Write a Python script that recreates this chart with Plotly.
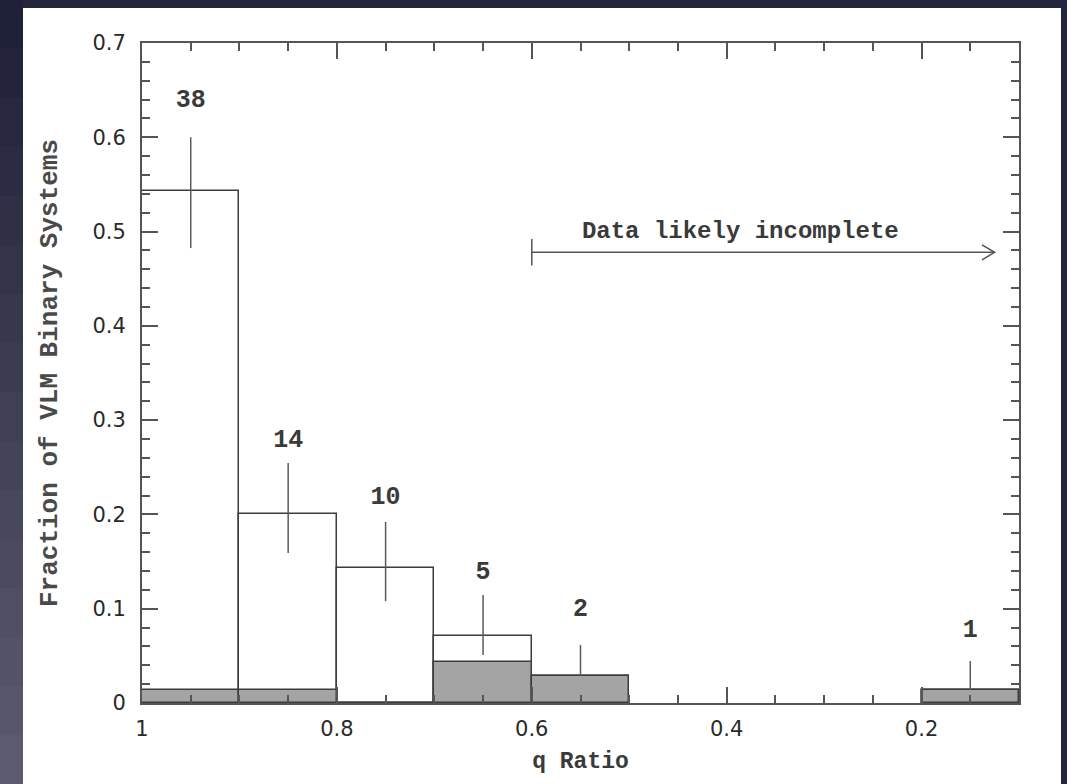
import plotly.graph_objects as go

# ---- data ----
bin_centers = [0.95, 0.85, 0.75, 0.65, 0.55, 0.15]
counts = [38, 14, 10, 5, 2, 1]
fraction_all = [0.543, 0.200, 0.143, 0.071, 0.029, 0.014]
fraction_gray = [0.014, 0.014, 0.0, 0.043, 0.029, 0.014]
err_upper = [0.600, 0.2545, 0.192, 0.1145, 0.0615, 0.0445]
err_lower = [0.4825, 0.159, 0.108, 0.051, 0.029, 0.014]
label_y = [0.639, 0.278, 0.218, 0.138, 0.099, 0.077]

x_ticks = [1.0, 0.8, 0.6, 0.4, 0.2]
x_ticktext = ["1", "0.8", "0.6", "0.4", "0.2"]
y_ticks = [0, 0.1, 0.2, 0.3, 0.4, 0.5, 0.6, 0.7]
y_ticktext = ["0", "0.1", "0.2", "0.3", "0.4", "0.5", "0.6", "0.7"]

arrow_start = 0.6
arrow_end = 0.125
arrow_y = 0.478
arrow_text = "Data likely incomplete"
text_x = 0.386
text_y = 0.50

BIN_W = 0.1
LINE = "#3c3c3c"
AX = "#555555"
TXT = "#3a3a3a"
MONO = "Liberation Mono"
SANS = "DejaVu Sans"

fig = go.Figure()

fig.add_trace(go.Bar(
    x=bin_centers, y=fraction_all, width=BIN_W,
    marker=dict(color="white", line=dict(color=LINE, width=1.5)),
    showlegend=False, hoverinfo="skip"))
fig.add_trace(go.Bar(
    x=bin_centers, y=fraction_gray, width=BIN_W,
    marker=dict(color="#a4a4a4", line=dict(color=LINE, width=1.5)),
    showlegend=False, hoverinfo="skip"))

plus = [u - v for u, v in zip(err_upper, fraction_all)]
minus = [v - l for v, l in zip(fraction_all, err_lower)]
fig.add_trace(go.Scatter(
    x=bin_centers, y=fraction_all, mode="markers",
    marker=dict(size=0.1, color="rgba(0,0,0,0)"),
    error_y=dict(type="data", array=plus, arrayminus=minus, symmetric=False,
                 width=0, thickness=1.5, color="#5a5a5a"),
    showlegend=False, hoverinfo="skip"))

fig.add_trace(go.Scatter(
    x=bin_centers, y=label_y, mode="text", text=[str(c) for c in counts],
    textfont=dict(family=MONO, size=25, color=TXT, weight="bold"),
    showlegend=False, hoverinfo="skip"))

# "Data likely incomplete" arrow
head_dx = 0.013
head_dy = 0.008
tick_dy = 0.014
fig.add_trace(go.Scatter(
    x=[arrow_start, arrow_end, None, arrow_end + head_dx, arrow_end, arrow_end + head_dx,
       None, arrow_start, arrow_start],
    y=[arrow_y, arrow_y, None, arrow_y + head_dy, arrow_y, arrow_y - head_dy,
       None, arrow_y - tick_dy, arrow_y + tick_dy],
    mode="lines", line=dict(color="#555555", width=1.5),
    showlegend=False, hoverinfo="skip"))
fig.add_trace(go.Scatter(
    x=[text_x], y=[text_y], mode="text", text=[arrow_text],
    textfont=dict(family=MONO, size=24, color=TXT, weight="bold"),
    showlegend=False, hoverinfo="skip"))

# background: white panel and dark gradient strips
shapes = [dict(type="rect", xref="paper", yref="paper",
               x0=(23 - 142) / 877, x1=(1061 - 142) / 877,
               y0=-0.3, y1=(703 - 8) / 660,
               fillcolor="white", line=dict(width=0), layer="below")]
n = 16
c0 = (31, 33, 56)
c1 = (92, 90, 112)
for i in range(n):
    t = i / (n - 1)
    col = "rgb(%d,%d,%d)" % tuple(int(a + (b - a) * t) for a, b in zip(c0, c1))
    ytop = 784 * i / n
    ybot = 784 * (i + 1) / n
    shapes.append(dict(type="rect", xref="paper", yref="paper",
                       x0=-142 / 877 - 0.01, x1=(23 - 142) / 877,
                       y0=(703 - ybot) / 660, y1=(703 - ytop) / 660,
                       fillcolor=col, line=dict(width=0), layer="below"))

fig.update_layout(
    width=1067, height=784,
    margin=dict(l=142, r=48, t=43, b=81, pad=0),
    paper_bgcolor="#22253b", plot_bgcolor="rgba(0,0,0,0)",
    barmode="overlay", bargap=0,
    shapes=shapes,
    xaxis=dict(range=[1.0, 0.1], tickvals=x_ticks, ticktext=x_ticktext,
               ticks="inside", ticklen=16, tickwidth=1.5, tickcolor=AX,
               showline=True, linecolor=AX, linewidth=2, mirror="ticks",
               showgrid=False, zeroline=False,
               minor=dict(dtick=0.05, tick0=0, ticks="inside", ticklen=8,
                          tickwidth=1.5, tickcolor=AX, showgrid=False),
               tickfont=dict(family=SANS, size=21, color="#2a2a2a"),
               ticklabelstandoff=6,
               title=dict(text="q Ratio",
                          font=dict(family=MONO, size=23, color=TXT, weight="bold"),
                          standoff=12)),
    yaxis=dict(range=[0, 0.7], tickvals=y_ticks, ticktext=y_ticktext,
               ticks="inside", ticklen=16, tickwidth=1.5, tickcolor=AX,
               showline=True, linecolor=AX, linewidth=2, mirror="ticks",
               showgrid=False, zeroline=False,
               minor=dict(dtick=0.02, tick0=0, ticks="inside", ticklen=8,
                          tickwidth=1.5, tickcolor=AX, showgrid=False),
               tickfont=dict(family=SANS, size=21, color="#2a2a2a"),
               ticklabelstandoff=10,
               title=dict(text="Fraction of VLM Binary Systems",
                          font=dict(family=MONO, size=26, color="#4a4a4a", weight="bold"),
                          standoff=27)),
)

fig.write_html("out.html")
